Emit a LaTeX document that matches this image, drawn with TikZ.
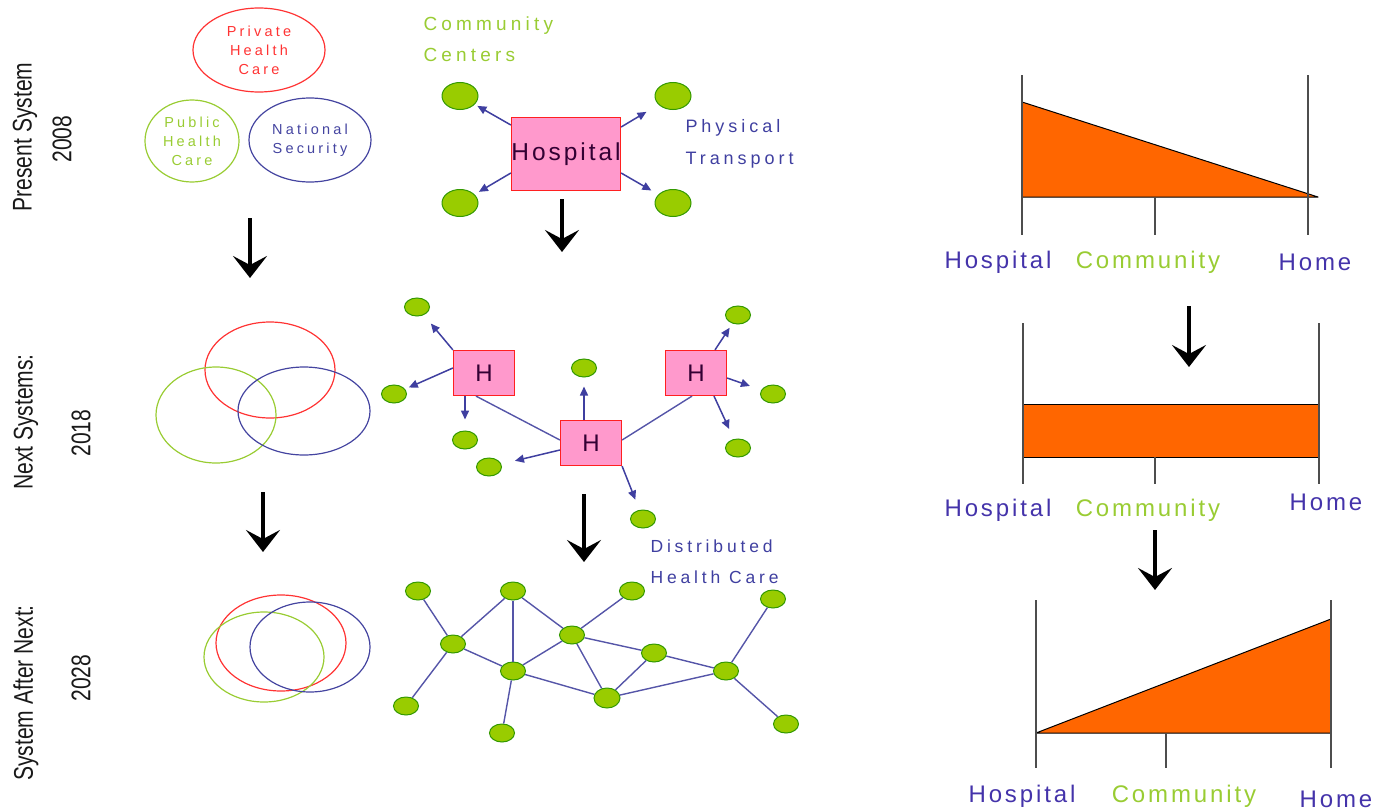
\documentclass[tikz,border=0pt]{standalone}
\usepackage{fontspec}
\usepackage{graphicx}
\setmainfont{Liberation Sans}
\newfontfamily\spfont[LetterSpace=22]{Liberation Sans}
\newfontfamily\lbfont[LetterSpace=12]{Liberation Sans}
\usetikzlibrary{arrows.meta,calc,shapes.geometric}
\definecolor{vred}{HTML}{FF3333}
\definecolor{vgreen}{HTML}{99CC33}
\definecolor{vblue}{HTML}{4444A0}
\definecolor{tblue}{HTML}{3F3FA0}
\definecolor{gfill}{HTML}{99CC00}
\definecolor{gline}{HTML}{339900}
\definecolor{pinkf}{HTML}{FF99CC}
\definecolor{boxred}{HTML}{FF2020}
\definecolor{darktxt}{HTML}{330033}
\definecolor{orng}{HTML}{FF6600}
\definecolor{axgray}{HTML}{4D4D4D}
\definecolor{netblue}{HTML}{5555A8}
\definecolor{lblblue}{HTML}{4433AA}
\tikzset{
  venn/.style={ellipse, line width=1.2pt, inner sep=0pt, align=center, font=\spfont\fontsize{14.5}{19}\selectfont},
  gnode/.style={ellipse, draw=gline, fill=gfill, line width=1pt, minimum width=25pt, minimum height=18pt, inner sep=0pt},
  bignode/.style={gnode, minimum width=36pt, minimum height=27pt},
  hbox/.style={rectangle, draw=boxred, fill=pinkf, line width=1.2pt, inner sep=0pt, text=darktxt},
  bigarrow/.style={draw=black, line width=4pt, -{Stealth[length=22pt,width=34pt,inset=9pt]}},
  barrow/.style={draw=tblue, line width=1.5pt, -{Triangle[length=9pt,width=8pt]}},
  hlink/.style={draw=netblue, line width=1.4pt},
  net/.style={draw=netblue, line width=1.4pt},
  axisline/.style={draw=axgray, line width=2.5pt},
  area/.style={fill=orng, draw=black, line width=1pt, line join=round},
  lbl/.style={font=\lbfont\fontsize{24}{26}\selectfont},
  side/.style={rotate=90, text=black!90, font=\fontsize{27}{30}\selectfont},
  note/.style={anchor=west, align=left},
}
\begin{document}
\begin{tikzpicture}[x=1pt,y=-1pt]
\useasboundingbox (0,0) rectangle (1379,811);

% ---------- side labels ----------
\node[side] (s1a) at (25,137) {\scalebox{0.78}[1]{Present System}};
\node[side] (s1b) at (62,139) {\scalebox{0.78}[1]{2008}};
\node[side] (s2a) at (26,422) {\scalebox{0.78}[1]{Next Systems:}};
\node[side] (s2b) at (81,433) {\scalebox{0.78}[1]{2018}};
\node[side] (s3a) at (26,693) {\scalebox{0.78}[1]{System After Next:}};
\node[side] (s3b) at (81,678) {\scalebox{0.78}[1]{2028}};

% ---------- Venn: present ----------
\node[venn, draw=vred, text=vred, minimum width=132pt, minimum height=84pt] (priv) at (259,50) {Private\\Health\\Care};
\node[venn, draw=vgreen, text=vgreen, minimum width=94pt, minimum height=82pt] (pub) at (192,141) {Public\\Health\\Care};
\node[venn, draw=vblue, text=vblue, minimum width=122pt, minimum height=84pt] (nat) at (310,140) {National\\Security};

% ---------- Venn: next ----------
\node[venn, draw=vred, minimum width=130pt, minimum height=96pt] (priv2) at (270,370) {};
\node[venn, draw=vgreen, minimum width=120pt, minimum height=96pt] (pub2) at (216,415) {};
\node[venn, draw=vblue, minimum width=132pt, minimum height=88pt] (nat2) at (304,411) {};

% ---------- Venn: after next ----------
\node[venn, draw=vred, minimum width=130pt, minimum height=96pt] (priv3) at (281,643) {};
\node[venn, draw=vgreen, minimum width=120pt, minimum height=90pt] (pub3) at (264,657) {};
\node[venn, draw=vblue, minimum width=120pt, minimum height=90pt] (nat3) at (310,647) {};

% ---------- big arrows ----------
\coordinate (a1s) at (250,218); \coordinate (a1e) at (250,278);
\coordinate (a2s) at (263,492); \coordinate (a2e) at (263,552);
\coordinate (a3s) at (562,199); \coordinate (a3e) at (562,252);
\coordinate (a4s) at (584,494); \coordinate (a4e) at (584,562);
\coordinate (a5s) at (1189,306); \coordinate (a5e) at (1189,367);
\coordinate (a6s) at (1155,530); \coordinate (a6e) at (1155,590);
\draw[bigarrow] (a1s) -- (a1e);
\draw[bigarrow] (a2s) -- (a2e);
\draw[bigarrow] (a3s) -- (a3e);
\draw[bigarrow] (a4s) -- (a4e);
\draw[bigarrow] (a5s) -- (a5e);
\draw[bigarrow] (a6s) -- (a6e);

% ---------- present: hospital ----------
\node[note, text=vgreen, font=\spfont\fontsize{19}{31}\selectfont] (cc) at (420,39) {Community\\Centers};
\node[note, text=tblue, font=\spfont\fontsize{18}{32}\selectfont] (pt) at (682,144) {Physical\\Transport};
\node[hbox, minimum width=109pt, minimum height=73pt, font=\lbfont\fontsize{24.5}{26}\selectfont] (hosp) at (566,154) {Hospital};
\node[bignode] (c1) at (460,96) {};
\node[bignode] (c2) at (673,96) {};
\node[bignode] (c3) at (460,203) {};
\node[bignode] (c4) at (673,203) {};
\draw[barrow, shorten >=3pt] ([yshift=29pt]hosp.west) -- (c1);
\draw[barrow, shorten >=14pt] ([yshift=27pt]hosp.east) -- (c2);
\draw[barrow, shorten >=5pt] ([yshift=-19pt]hosp.west) -- (c3);
\draw[barrow, shorten >=8pt] ([yshift=-19pt]hosp.east) -- (c4);

% ---------- next: H network ----------
\node[hbox, minimum width=61pt, minimum height=45pt, font=\fontsize{24}{26}\selectfont] (H1) at (484,373) {H};
\node[hbox, minimum width=61pt, minimum height=45pt, font=\fontsize{24}{26}\selectfont] (H2) at (696,373) {H};
\node[hbox, minimum width=61pt, minimum height=45pt, font=\fontsize{24}{26}\selectfont] (H3) at (591,443) {H};
\node[gnode] (ma) at (417,307) {};
\node[gnode] (mb) at (394,394) {};
\node[gnode] (mc) at (465,440) {};
\node[gnode] (md) at (489,467) {};
\node[gnode] (me) at (584,368) {};
\node[gnode] (mf) at (738,315) {};
\node[gnode] (mg) at (773,394) {};
\node[gnode] (mh) at (738,448) {};
\node[gnode] (mi) at (643,519) {};
\draw[hlink] ([xshift=-8pt]H1.south) -- ([yshift=3pt]H3.west);
\draw[hlink] ([yshift=3pt]H3.east) -- ([xshift=-4pt]H2.south);
\draw[barrow, shorten >=11pt] (H1.north west) -- (ma);
\draw[barrow, shorten >=4pt] ([yshift=5pt]H1.west) -- (mb);
\draw[barrow, shorten >=11pt] ([xshift=-19pt]H1.south) -- (mc);
\draw[barrow, shorten >=9pt] ([xshift=-7pt]H3.north) -- (me);
\draw[barrow, shorten >=14pt] ([yshift=-7pt]H3.west) -- (md);
\draw[barrow, shorten >=11pt] (H3.south east) -- (mi);
\draw[barrow, shorten >=5pt] ([xshift=19pt]H2.north) -- (mf);
\draw[barrow, shorten >=12pt] ([yshift=-5pt]H2.east) -- (mg);
\draw[barrow, shorten >=11pt] ([xshift=18pt]H2.south) -- (mh);

% ---------- after next: distributed ----------
\node[note, text=tblue, font=\spfont\fontsize{17.5}{31}\selectfont] (dh) at (647,562) {Distributed\\Health Care};
\node[gnode] (n1) at (418,591) {};
\node[gnode] (n2) at (513,591) {};
\node[gnode] (n3) at (632,591) {};
\node[gnode] (n4) at (773,599) {};
\node[gnode] (n5) at (453,644) {};
\node[gnode] (n6) at (572,635) {};
\node[gnode] (n7) at (654,653) {};
\node[gnode] (n8) at (513,671) {};
\node[gnode] (n9) at (726,671) {};
\node[gnode, minimum width=26pt, minimum height=20pt] (n10) at (607,698) {};
\node[gnode] (n11) at (406,706) {};
\node[gnode] (n12) at (502,733) {};
\node[gnode] (n13) at (786,724) {};
\draw[net] (n1) -- (n5);
\draw[net] (n5) -- (n11);
\draw[net] (n5) -- (n2);
\draw[net] (n5) -- (n8);
\draw[net] (n2) -- (n8);
\draw[net] (n2) -- (n6);
\draw[net] (n3) -- (n6);
\draw[net] (n6) -- (n8);
\draw[net] (n6) -- (n7);
\draw[net] (n6) -- (n10);
\draw[net] (n8) -- (n10);
\draw[net] (n8) -- (n12);
\draw[net] (n7) -- (n10);
\draw[net] (n7) -- (n9);
\draw[net] (n10) -- (n9);
\draw[net] (n9) -- (n4);
\draw[net] (n9) -- (n13);

% ---------- right charts ----------
\draw[area] (1022,102) -- (1318,197) -- (1022,197) -- cycle;
\draw[axisline] (1022,75) -- (1022,235);
\draw[axisline] (1308,75) -- (1308,235);
\draw[axisline] (1155,197) -- (1155,235);
\node[lbl, text=lblblue] (h1) at (998,262) {Hospital};
\node[lbl, text=vgreen] (m1) at (1148,262) {Community};
\node[lbl, text=lblblue] (o1) at (1315,262) {Home};

\draw[area] (1023,404) rectangle (1319,457);
\draw[axisline] (1023,323) -- (1023,484);
\draw[axisline] (1319,323) -- (1319,484);
\draw[axisline] (1155,457) -- (1155,484);
\node[lbl, text=lblblue] (h2) at (998,510) {Hospital};
\node[lbl, text=vgreen] (m2) at (1148,510) {Community};
\node[lbl, text=lblblue] (o2) at (1326,502) {Home};

\draw[area] (1036,733) -- (1331,619) -- (1331,733) -- cycle;
\draw[axisline] (1036,600) -- (1036,768);
\draw[axisline] (1331,600) -- (1331,768);
\draw[axisline] (1166,733) -- (1166,768);
\node[lbl, text=lblblue] (h3) at (1022,796) {Hospital};
\node[lbl, text=vgreen] (m3) at (1184,796) {Community};
\node[lbl, text=lblblue] (o3) at (1336,799) {Home};
\end{tikzpicture}
\end{document}
